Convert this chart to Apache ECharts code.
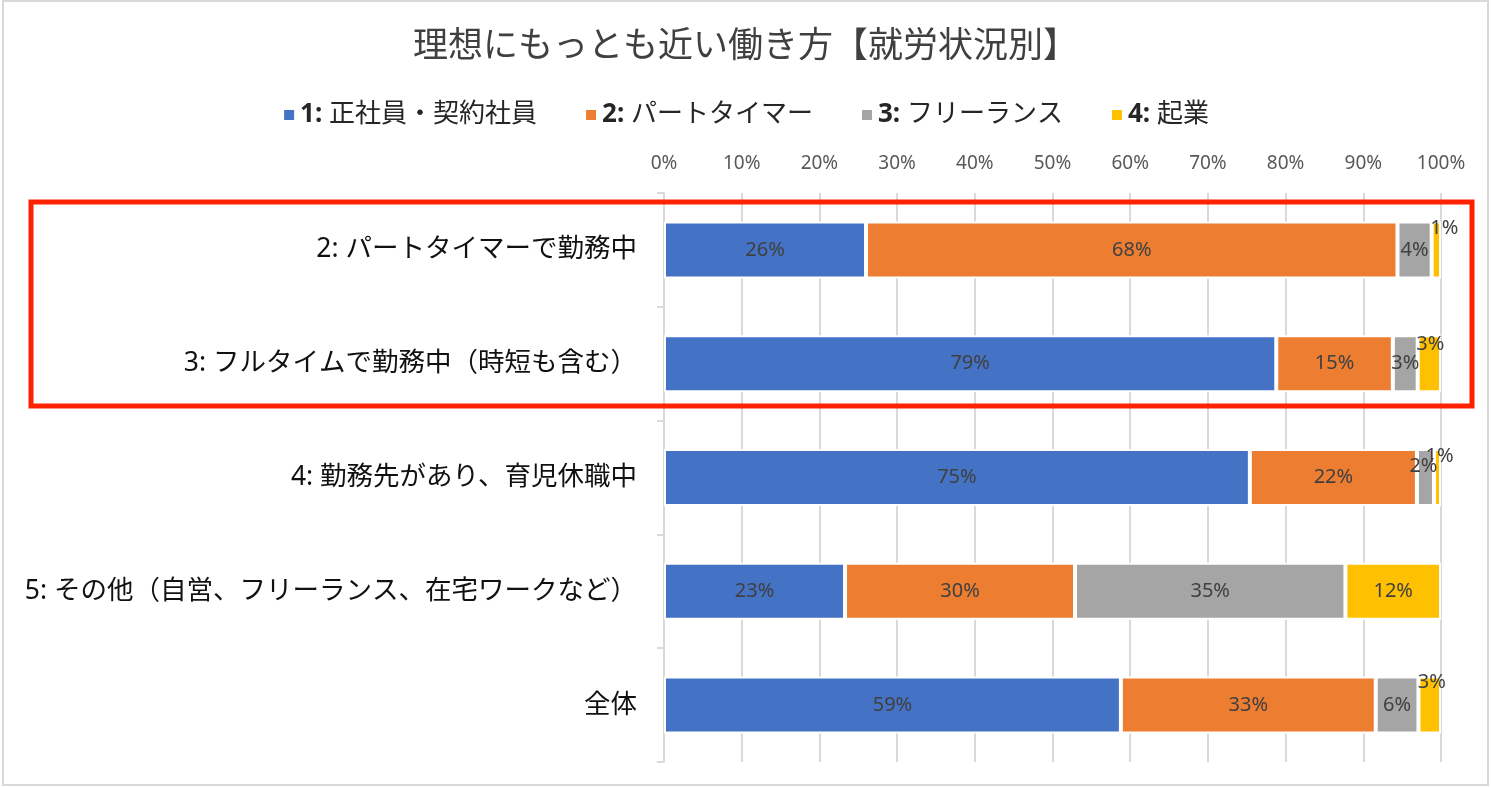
<!DOCTYPE html>
<html>
<head>
<meta charset="utf-8">
<script src="https://cdn.jsdelivr.net/npm/echarts@6/dist/echarts.min.js"></script>
<style>
html,body{margin:0;padding:0;background:#fff;}
#main{width:1491px;height:787px;}
</style>
</head>
<body>
<div id="main"></div>
<script>
const titleText = '理想にもっとも近い働き方【就労状況別】';
const categories = [
  '2: パートタイマーで勤務中',
  '3: フルタイムで勤務中（時短も含む）',
  '4: 勤務先があり、育児休職中',
  '5: その他（自営、フリーランス、在宅ワークなど）',
  '全体'
];
const seriesNames = ['1: 正社員・契約社員', '2: パートタイマー', '3: フリーランス', '4: 起業'];
const fullTime = [26.0, 78.8, 75.4, 23.3, 58.8];
const partTime = [68.4, 15.0, 21.5, 29.6, 32.8];
const freelance = [4.4, 3.2, 2.2, 34.8, 5.5];
const startup = [1.2, 3.0, 0.9, 12.3, 2.9];
const xTicks = [0, 10, 20, 30, 40, 50, 60, 70, 80, 90, 100];

const colors = ['#4472C4', '#ED7D31', '#A5A5A5', '#FFC000'];
const FONT = "'Noto Sans', 'Noto Sans CJK JP', sans-serif";

// label offsets for narrow segments (series index -> row index -> [dx, dy])
const labelShift = {
  2: {2: [-2, -11]},
  3: {0: [8, -22], 1: [1, -19], 2: [2, -21], 4: [2, -23]}
};

const allData = [fullTime, partTime, freelance, startup];

const chart = echarts.init(document.getElementById('main'));
const series = allData.map((arr, si) => ({
  name: seriesNames[si],
  type: 'bar',
  stack: 'total',
  barWidth: 57,
  itemStyle: {color: colors[si], borderColor: '#fff', borderWidth: 2},
  label: {
    show: true,
    position: 'inside',
    color: '#404040',
    fontSize: 20,
    fontFamily: FONT,
    formatter: p => Math.round(p.value) + '%'
  },
  data: arr.map((v, ri) => {
    const sh = labelShift[si] && labelShift[si][ri];
    if (sh) return {value: v, label: {offset: sh}};
    return v;
  })
}));

chart.setOption({
  backgroundColor: '#fff',
  animation: false,
  title: {
    text: titleText,
    left: 'center',
    top: 25,
    textStyle: {fontSize: 35, fontWeight: 'normal', color: '#404040', fontFamily: FONT}
  },
  legend: {
    top: 97,
    left: 'center',
    itemWidth: 12,
    itemHeight: 12,
    itemGap: 47,
    icon: 'rect',
    textStyle: {
      fontSize: 26, color: '#262626', fontFamily: FONT,
      rich: {
        b: {fontSize: 26, fontWeight: 'bold', color: '#262626', fontFamily: FONT},
        n: {fontSize: 26, color: '#262626', fontFamily: FONT}
      }
    },
    formatter: name => {
      const i = name.indexOf(':');
      return '{b|' + name.slice(0, i + 1) + '}{n|' + name.slice(i + 1) + '}';
    },
    data: seriesNames
  },
  grid: {left: 664, right: 50, top: 193, bottom: 25, containLabel: false},
  xAxis: {
    type: 'value',
    position: 'top',
    min: 0,
    max: 100,
    interval: 10,
    axisLine: {show: false},
    axisTick: {show: false},
    splitLine: {show: true, lineStyle: {color: '#D9D9D9', width: 2}},
    axisLabel: {
      color: '#595959', fontSize: 19, fontFamily: FONT, margin: 20,
      formatter: v => v + '%'
    }
  },
  yAxis: {
    type: 'category',
    inverse: true,
    data: categories,
    axisLine: {show: true, lineStyle: {color: '#D9D9D9', width: 2}},
    axisTick: {show: true, length: 7, lineStyle: {color: '#D9D9D9', width: 2}},
    axisLabel: {color: '#111111', fontSize: 26.5, fontFamily: FONT, margin: 27}
  },
  graphic: [
    {
      type: 'rect', silent: true, z: 100,
      shape: {x: 3, y: 1, width: 1485, height: 784},
      style: {fill: 'none', stroke: '#D9D9D9', lineWidth: 2}
    },
    {
      type: 'rect', silent: true, z: 100,
      shape: {x: 31, y: 202, width: 1441, height: 204},
      style: {fill: 'none', stroke: '#FF2200', lineWidth: 5}
    }
  ],
  series: series
});
</script>
</body>
</html>
